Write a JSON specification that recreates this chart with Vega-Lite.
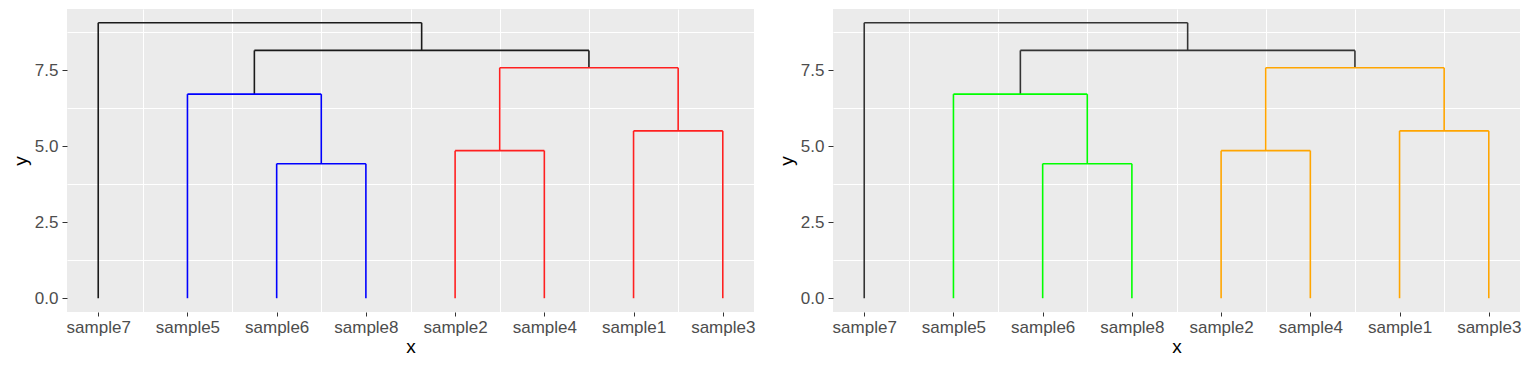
{
  "$schema": "https://vega.github.io/schema/vega-lite/v6.json",
  "background": "white",
  "padding": {"left": 11, "top": 9, "right": 10, "bottom": 5},
  "config": {
    "view": {"fill": "#EBEBEB", "stroke": null},
    "font": "Liberation Sans",
    "axis": {
      "domain": false,
      "gridColor": "#FFFFFF",
      "gridOpacity": 1,
      "tickColor": "#333333",
      "labelColor": "#4D4D4D",
      "labelFont": "Liberation Sans",
      "labelFontSize": 17,
      "titleFont": "Liberation Sans",
      "titleFontSize": 19,
      "titleFontWeight": "normal",
      "titleColor": "black"
    }
  },
  "datasets": {
    "segs": [
      {"x": 1, "y": 9.07, "xend": 4.625, "yend": 9.07, "grp": "none"},
      {"x": 1, "y": 9.07, "xend": 1, "yend": 0, "grp": "none"},
      {"x": 4.625, "y": 9.07, "xend": 4.625, "yend": 8.16, "grp": "none"},
      {"x": 2.75, "y": 8.16, "xend": 6.5, "yend": 8.16, "grp": "none"},
      {"x": 2.75, "y": 8.16, "xend": 2.75, "yend": 6.72, "grp": "none"},
      {"x": 6.5, "y": 8.16, "xend": 6.5, "yend": 7.59, "grp": "none"},
      {"x": 2, "y": 6.72, "xend": 3.5, "yend": 6.72, "grp": "cluster1"},
      {"x": 2, "y": 6.72, "xend": 2, "yend": 0, "grp": "cluster1"},
      {"x": 3.5, "y": 6.72, "xend": 3.5, "yend": 4.43, "grp": "cluster1"},
      {"x": 3, "y": 4.43, "xend": 4, "yend": 4.43, "grp": "cluster1"},
      {"x": 3, "y": 4.43, "xend": 3, "yend": 0, "grp": "cluster1"},
      {"x": 4, "y": 4.43, "xend": 4, "yend": 0, "grp": "cluster1"},
      {"x": 5.5, "y": 7.59, "xend": 7.5, "yend": 7.59, "grp": "cluster2"},
      {"x": 5.5, "y": 7.59, "xend": 5.5, "yend": 4.86, "grp": "cluster2"},
      {"x": 7.5, "y": 7.59, "xend": 7.5, "yend": 5.51, "grp": "cluster2"},
      {"x": 5, "y": 4.86, "xend": 6, "yend": 4.86, "grp": "cluster2"},
      {"x": 5, "y": 4.86, "xend": 5, "yend": 0, "grp": "cluster2"},
      {"x": 6, "y": 4.86, "xend": 6, "yend": 0, "grp": "cluster2"},
      {"x": 7, "y": 5.51, "xend": 8, "yend": 5.51, "grp": "cluster2"},
      {"x": 7, "y": 5.51, "xend": 7, "yend": 0, "grp": "cluster2"},
      {"x": 8, "y": 5.51, "xend": 8, "yend": 0, "grp": "cluster2"}
    ]
  },
  "hconcat": [
    {
      "width": 687,
      "height": 303,
      "data": {"name": "segs"},
      "resolve": {"axis": {"x": "independent", "y": "independent"}},
      "layer": [
        {
          "mark": {"type": "rule", "opacity": 0},
          "encoding": {
            "x": {"field": "x", "type": "quantitative", "scale": {"domain": [0.65, 8.35], "nice": false, "zero": false},
              "axis": {"orient": "bottom", "values": [1.5, 2.5, 3.5, 4.5, 5.5, 6.5, 7.5], "labels": false, "ticks": false, "title": null, "gridWidth": 1}},
            "y": {"field": "y", "type": "quantitative", "scale": {"domain": [-0.4535, 9.5235], "nice": false, "zero": false},
              "axis": {"orient": "left", "values": [1.25, 3.75, 6.25, 8.75], "labels": false, "ticks": false, "title": null, "gridWidth": 1}}
          }
        },
        {
          "mark": {"type": "rule", "strokeWidth": 1.6, "strokeCap": "butt"},
          "encoding": {
            "x": {"field": "x", "type": "quantitative", "scale": {"domain": [0.65, 8.35], "nice": false, "zero": false},
              "axis": {"orient": "bottom", "values": [1, 2, 3, 4, 5, 6, 7, 8], "title": "x", "gridWidth": 2, "tickSize": 4, "labelPadding": 3, "titlePadding": 2,
                "labelExpr": "['sample7','sample5','sample6','sample8','sample2','sample4','sample1','sample3'][datum.value-1]"}},
            "x2": {"field": "xend"},
            "y": {"field": "y", "type": "quantitative", "scale": {"domain": [-0.4535, 9.5235], "nice": false, "zero": false},
              "axis": {"orient": "left", "values": [0, 2.5, 5, 7.5], "format": ".1f", "title": "y", "gridWidth": 2, "tickSize": 5, "labelPadding": 4, "titlePadding": 4}},
            "y2": {"field": "yend"},
            "color": {"field": "grp", "type": "nominal", "legend": null,
              "scale": {"domain": ["none", "cluster1", "cluster2"], "range": ["#1a1a1a", "#0000FF", "#FF2020"]}}
          }
        }
      ]
    },
    {
      "width": 687,
      "height": 303,
      "data": {"name": "segs"},
      "resolve": {"axis": {"x": "independent", "y": "independent"}},
      "layer": [
        {
          "mark": {"type": "rule", "opacity": 0},
          "encoding": {
            "x": {"field": "x", "type": "quantitative", "scale": {"domain": [0.65, 8.35], "nice": false, "zero": false},
              "axis": {"orient": "bottom", "values": [1.5, 2.5, 3.5, 4.5, 5.5, 6.5, 7.5], "labels": false, "ticks": false, "title": null, "gridWidth": 1}},
            "y": {"field": "y", "type": "quantitative", "scale": {"domain": [-0.4535, 9.5235], "nice": false, "zero": false},
              "axis": {"orient": "left", "values": [1.25, 3.75, 6.25, 8.75], "labels": false, "ticks": false, "title": null, "gridWidth": 1}}
          }
        },
        {
          "mark": {"type": "rule", "strokeWidth": 1.6, "strokeCap": "butt"},
          "encoding": {
            "x": {"field": "x", "type": "quantitative", "scale": {"domain": [0.65, 8.35], "nice": false, "zero": false},
              "axis": {"orient": "bottom", "values": [1, 2, 3, 4, 5, 6, 7, 8], "title": "x", "gridWidth": 2, "tickSize": 4, "labelPadding": 3, "titlePadding": 2,
                "labelExpr": "['sample7','sample5','sample6','sample8','sample2','sample4','sample1','sample3'][datum.value-1]"}},
            "x2": {"field": "xend"},
            "y": {"field": "y", "type": "quantitative", "scale": {"domain": [-0.4535, 9.5235], "nice": false, "zero": false},
              "axis": {"orient": "left", "values": [0, 2.5, 5, 7.5], "format": ".1f", "title": "y", "gridWidth": 2, "tickSize": 5, "labelPadding": 4, "titlePadding": 4}},
            "y2": {"field": "yend"},
            "color": {"field": "grp", "type": "nominal", "legend": null,
              "scale": {"domain": ["none", "cluster1", "cluster2"], "range": ["#333333", "#00FF00", "#FFA500"]}}
          }
        }
      ]
    }
  ],
  "resolve": {"scale": {"color": "independent"}},
  "spacing": 22
}
